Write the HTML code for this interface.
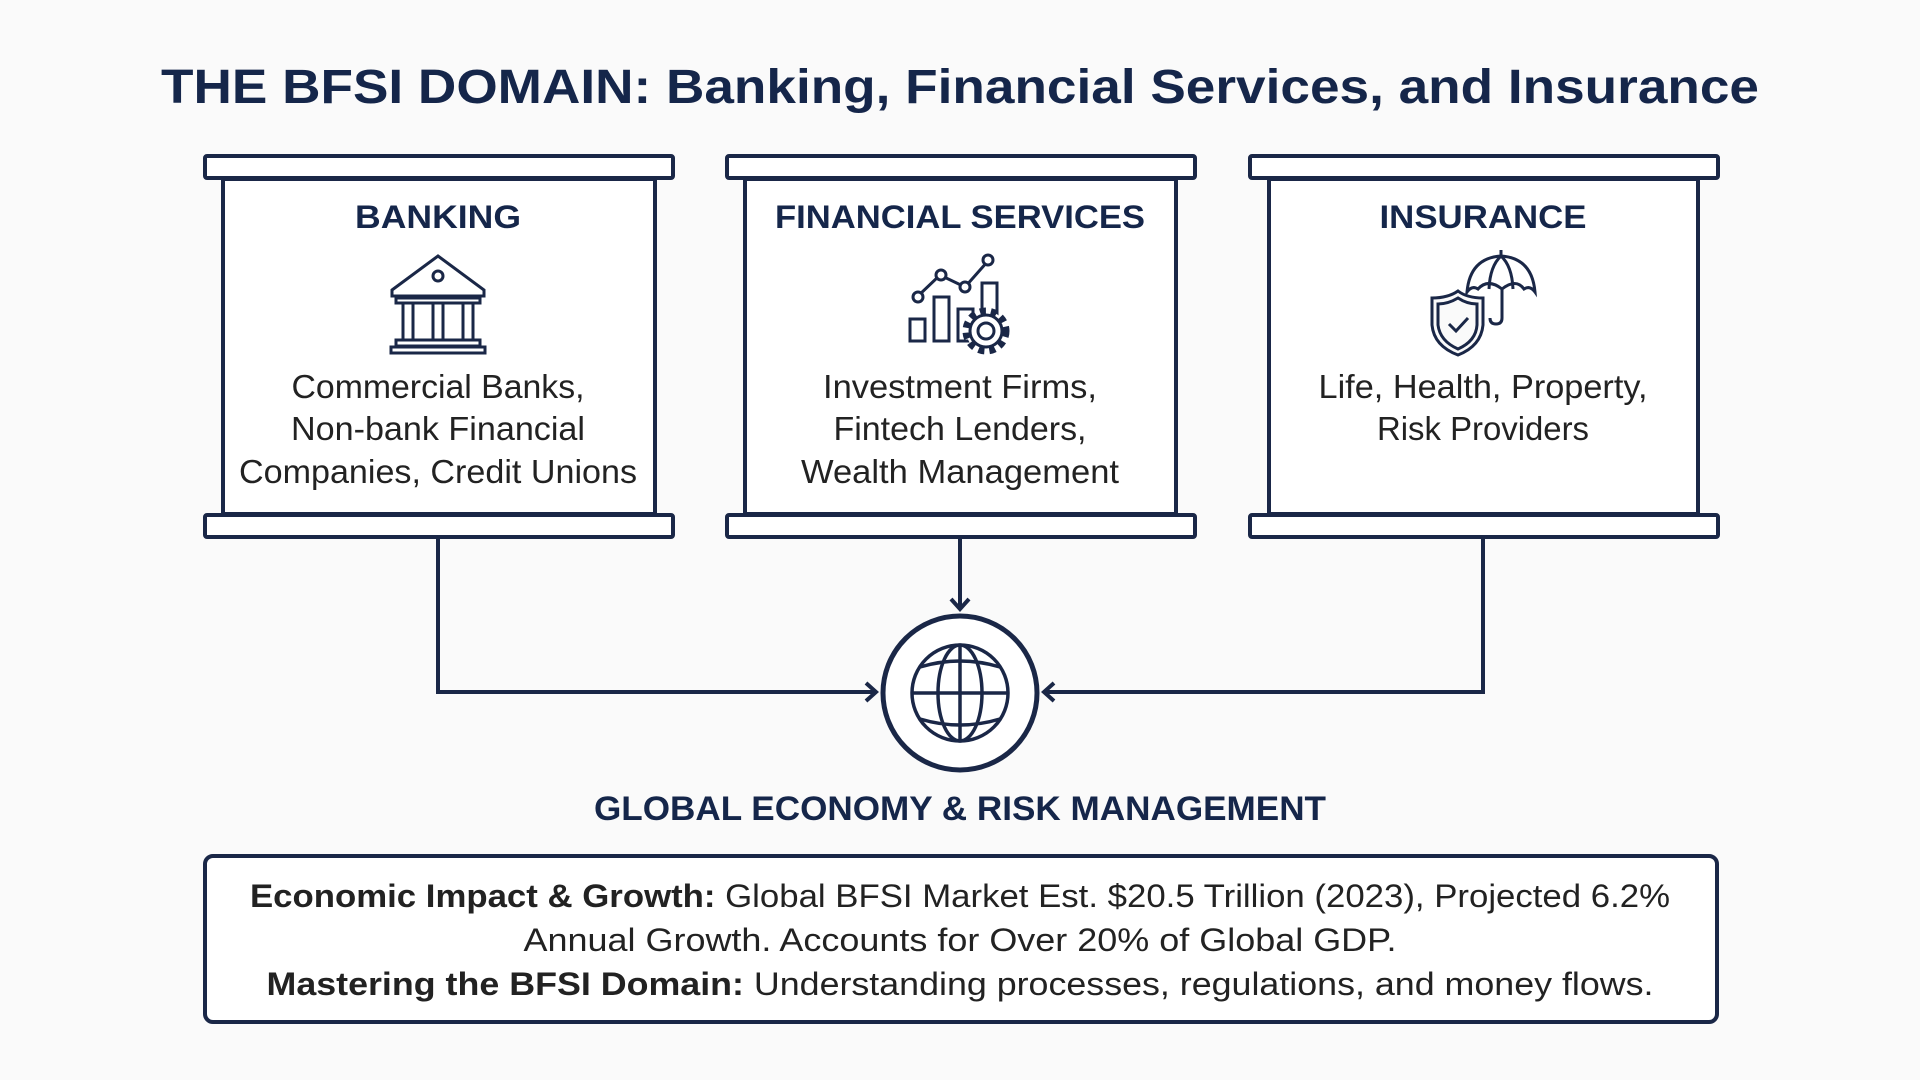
<!DOCTYPE html>
<html><head><meta charset="utf-8"><style>
html,body{margin:0;padding:0;background:#fafafa;}
svg{display:block}
text{font-family:"Liberation Sans",sans-serif;}
</style></head><body>
<svg width="1920" height="1080" viewBox="0 0 1920 1080" xmlns="http://www.w3.org/2000/svg">
<rect width="1920" height="1080" fill="#fafafa"/>
<text x="960" y="103" text-anchor="middle" font-size="48" font-weight="bold" fill="#15264a" textLength="1598" lengthAdjust="spacingAndGlyphs">THE BFSI DOMAIN: Banking, Financial Services, and Insurance</text>

<g fill="#fff" stroke="#1a2747" stroke-width="4">
  <rect x="223" y="179" width="432" height="335"/>
  <rect x="205" y="156" width="468" height="22" rx="2"/>
  <rect x="205" y="515" width="468" height="22" rx="2"/>
  <rect x="745" y="179" width="431" height="335"/>
  <rect x="727" y="156" width="468" height="22" rx="2"/>
  <rect x="727" y="515" width="468" height="22" rx="2"/>
  <rect x="1269" y="179" width="429" height="335"/>
  <rect x="1250" y="156" width="468" height="22" rx="2"/>
  <rect x="1250" y="515" width="468" height="22" rx="2"/>
</g>

<g font-weight="bold" font-size="32" fill="#15264a" text-anchor="middle">
<text x="438" y="228" textLength="166" lengthAdjust="spacingAndGlyphs">BANKING</text>
<text x="960" y="228" textLength="370" lengthAdjust="spacingAndGlyphs">FINANCIAL SERVICES</text>
<text x="1483" y="228" textLength="207" lengthAdjust="spacingAndGlyphs">INSURANCE</text>
</g>
<g font-size="33" fill="#222" text-anchor="middle">
<text x="438" y="398" textLength="293" lengthAdjust="spacingAndGlyphs">Commercial Banks,</text>
<text x="438" y="440" textLength="294" lengthAdjust="spacingAndGlyphs">Non-bank Financial</text>
<text x="438" y="483" textLength="398" lengthAdjust="spacingAndGlyphs">Companies, Credit Unions</text>
<text x="960" y="398" textLength="274" lengthAdjust="spacingAndGlyphs">Investment Firms,</text>
<text x="960" y="440" textLength="253" lengthAdjust="spacingAndGlyphs">Fintech Lenders,</text>
<text x="960" y="483" textLength="318" lengthAdjust="spacingAndGlyphs">Wealth Management</text>
<text x="1483" y="398" textLength="329" lengthAdjust="spacingAndGlyphs">Life, Health, Property,</text>
<text x="1483" y="440" textLength="212" lengthAdjust="spacingAndGlyphs">Risk Providers</text>
</g>

<!-- bank icon -->
<g fill="none" stroke="#1a2747" stroke-width="3">
  <path d="M392 290 L438 256 L484 290 L484 296 L392 296 Z"/>
  <circle cx="438" cy="276" r="5"/>
  <rect x="396" y="298" width="84" height="5"/>
  <rect x="403" y="303" width="10" height="37"/>
  <rect x="433" y="303" width="10" height="37"/>
  <rect x="463" y="303" width="10" height="37"/>
  <rect x="396" y="340" width="84" height="6"/>
  <rect x="391" y="347" width="94" height="6"/>
</g>
<!-- financial icon -->
<g fill="none" stroke="#1a2747" stroke-width="3">
  <rect x="910" y="319" width="15" height="22"/>
  <rect x="934" y="297" width="15" height="44"/>
  <rect x="958" y="309" width="15" height="32"/>
  <rect x="982" y="283" width="15" height="40"/>
  <polyline points="918,296 940,275 965,287 988,261"/>
  <circle cx="918" cy="297" r="5" fill="#fff"/>
  <circle cx="941" cy="275" r="5" fill="#fff"/>
  <circle cx="965" cy="287" r="5" fill="#fff"/>
  <circle cx="988" cy="260" r="5" fill="#fff"/>
  <circle cx="986" cy="331" r="20" stroke-dasharray="6 5" stroke-width="7" fill="#fff"/>
  <circle cx="986" cy="331" r="16" fill="#fff"/>
  <circle cx="986" cy="331" r="8"/>
</g>
<!-- insurance icon -->
<g fill="none" stroke="#1a2747" stroke-width="3">
  <path d="M1467 292 Q1470 258 1501 256 Q1532 258 1535 292 Q1530 285 1524 289 Q1516 278 1502 289 Q1488 278 1478 289 Q1472 285 1467 292 Z"/>
  <path d="M1489 289 Q1490 266 1501 256 Q1512 266 1513 289"/>
  <path d="M1501 256 L1501 250"/>
  <path d="M1502 289 L1502 318 Q1502 324 1496 324 Q1490 324 1490 318"/>
  <path d="M1458 291 Q1448 298 1432 298 L1432 325 Q1434 346 1458 355 Q1481 346 1483 325 L1483 298 Q1467 298 1458 291 Z" fill="#fafafa"/>
  <path d="M1458 298 Q1448 304 1438 304 L1438 325 Q1440 341 1458 349 Q1476 341 1477 325 L1477 304 Q1467 304 1458 298 Z"/>
  <polyline points="1449,324 1456,331 1468,318"/>
</g>

<!-- connectors -->
<g fill="none" stroke="#1a2747" stroke-width="4">
  <polyline points="438,538 438,692 875,692"/>
  <polyline points="1483,538 1483,692 1045,692"/>
  <line x1="960" y1="538" x2="960" y2="607"/>
  <polyline points="866,683 876,692 866,701"/>
  <polyline points="1054,683 1044,692 1054,701"/>
  <polyline points="951,599 960,609 969,599"/>
  <circle cx="960" cy="693" r="77" stroke-width="5" fill="#fff"/>
  <g stroke-width="3.5">
    <circle cx="960" cy="693" r="48"/>
    <ellipse cx="960" cy="693" rx="22" ry="48"/>
    <line x1="960" y1="645" x2="960" y2="741"/>
    <line x1="912" y1="693" x2="1008" y2="693"/>
    <path d="M920 667 Q960 655 1000 667"/>
    <path d="M920 719 Q960 731 1000 719"/>
  </g>
</g>

<text x="960" y="820" text-anchor="middle" font-size="34" font-weight="bold" fill="#15264a" textLength="732" lengthAdjust="spacingAndGlyphs">GLOBAL ECONOMY &amp; RISK MANAGEMENT</text>

<rect x="205" y="856" width="1512" height="166" rx="8" fill="#fff" stroke="#1a2747" stroke-width="4"/>
<g font-size="32" fill="#222" text-anchor="middle">
<text x="960" y="907" textLength="1420" lengthAdjust="spacingAndGlyphs"><tspan font-weight="bold">Economic Impact &amp; Growth:</tspan> Global BFSI Market Est. $20.5 Trillion (2023), Projected 6.2%</text>
<text x="960" y="951" textLength="873" lengthAdjust="spacingAndGlyphs">Annual Growth. Accounts for Over 20% of Global GDP.</text>
<text x="960" y="995" textLength="1387" lengthAdjust="spacingAndGlyphs"><tspan font-weight="bold">Mastering the BFSI Domain:</tspan> Understanding processes, regulations, and money flows.</text>
</g>
</svg>
</body></html>
